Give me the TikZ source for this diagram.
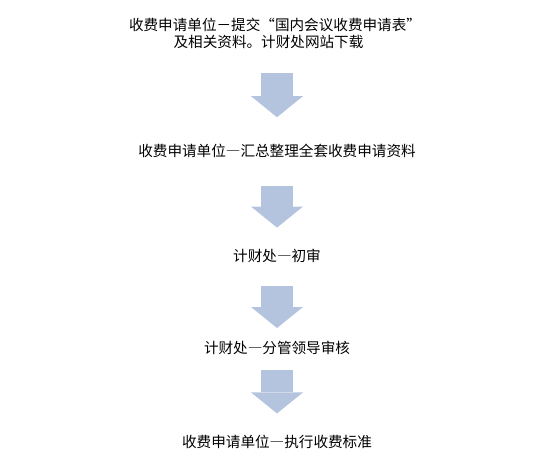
\documentclass[tikz,border=0pt]{standalone}
\usepackage{fontspec}
\setmainfont{Noto Sans CJK SC}
\usetikzlibrary{arrows.meta, positioning}
\definecolor{arrowblue}{RGB}{180,196,222}
\newcommand{\fw}[1]{{\addfontfeature{CharacterWidth=Full}#1}}

\begin{document}
\begin{tikzpicture}[
    x=1pt, y=-1pt,
    stage/.style={inner sep=0pt, minimum height=16pt, text height=11pt,
                  text depth=3pt, align=center,
                  font=\fontsize{14.6pt}{17.5pt}\selectfont},
    flow/.style={line width=32pt, draw=arrowblue,
                 -{Triangle[width=52pt, length=21pt, line width=0pt, fill=arrowblue]}},
]
\useasboundingbox (0,0) rectangle (554,472);

\node[stage, text height=28.5pt] (apply) at (275,34.75)
    {收费申请单位－提交\fw{“}国内会议收费申请表\fw{”}\\及相关资料。计财处网站下载\hspace*{13pt}};
\node[stage, below=93.5pt of apply, xshift=2pt] (collect) {收费申请单位\fw{—}汇总整理全套收费申请资料};
\node[stage, below=89pt of collect] (review) {计财处\fw{—}初审};
\node[stage, below=75pt of review] (approve) {计财处\fw{—}分管领导审核};
\node[stage, below=78pt of approve] (execute) {收费申请单位\fw{—}执行收费标准};

% block arrows between the steps
\draw[flow, shorten <=22.5pt, shorten >=27pt] (apply.south -| collect) -- (collect);
\draw[flow, shorten <=25pt, shorten >=22pt] (collect) -- (review);
\draw[flow, shorten <=20pt, shorten >=13pt] (review) -- (approve);
\draw[flow, shorten <=13pt, shorten >=22pt] (approve) -- (execute);
\end{tikzpicture}
\end{document}
